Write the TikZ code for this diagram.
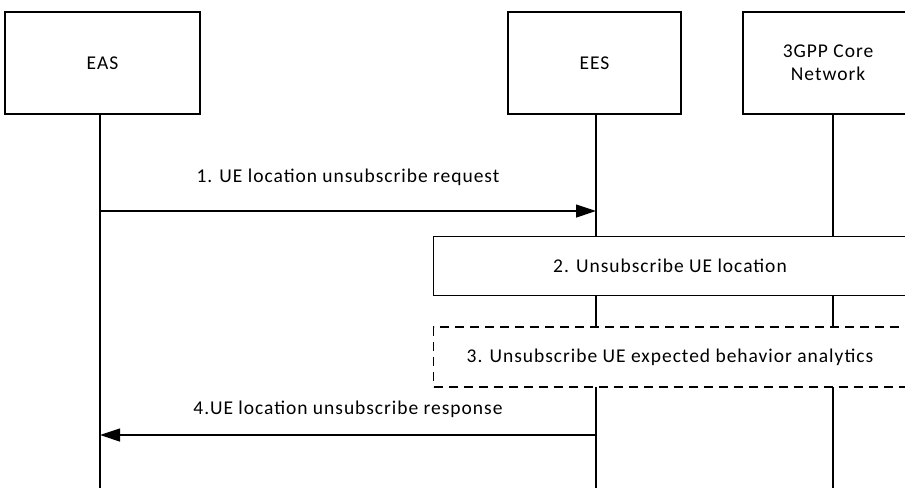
\documentclass[tikz,border=0pt]{standalone}
\usepackage{fontspec}
\setmainfont{Carlito}[LetterSpace=5]
\usetikzlibrary{arrows.meta}
\begin{document}
\begin{tikzpicture}[x=1pt,y=-1pt,
  every node/.style={font=\fontsize{19.5}{23}\selectfont},
  actor/.style={draw,line width=1.2pt,fill=white,inner sep=0pt},
  lifeline/.style={line width=1.2pt},
  msg/.style={line width=1.2pt,-{Triangle[length=20pt,width=13pt]}},
  stepbox/.style={draw,line width=1.2pt,fill=white},
  dashbox/.style={draw,line width=1.2pt,fill=white,dash pattern=on 9pt off 6pt}]
\useasboundingbox (0,0) rectangle (905,488);
% actors
\node[actor,minimum width=195pt,minimum height=102pt] (eas) at (102.5,63) {EAS};
\node[actor,minimum width=173pt,minimum height=102pt] (ees) at (594.5,63) {EES};
\node[actor,minimum width=170pt,minimum height=102pt,align=center] (cn) at (828,63) {3GPP Core\\Network};
% lifelines
\coordinate (easend) at (100,488);
\coordinate (eesend) at (596,488);
\coordinate (cnend) at (833,488);
\draw[lifeline] (100,114) -- (easend);
\draw[lifeline] (596,114) -- (eesend);
\draw[lifeline] (833,114) -- (cnend);
% step boxes
\node[stepbox,minimum width=480pt,minimum height=59pt,anchor=west] (s2) at (433,266) {};
\node at (670,266) {2. Unsubscribe UE location};
\node[dashbox,minimum width=480pt,minimum height=60pt,anchor=west] (s3) at (433,357) {};
\node at (670,357) {3. Unsubscribe UE expected behavior analytics};
% messages
\coordinate (m1a) at (100,211);
\coordinate (m1b) at (596,211);
\draw[msg] (m1a) -- node[midway,yshift=34pt] {1. UE location unsubscribe request} (m1b);
\coordinate (m4a) at (596,435);
\coordinate (m4b) at (100,435);
\draw[msg] (m4a) -- node[midway,yshift=26pt] {4.UE location unsubscribe response} (m4b);
\end{tikzpicture}
\end{document}
